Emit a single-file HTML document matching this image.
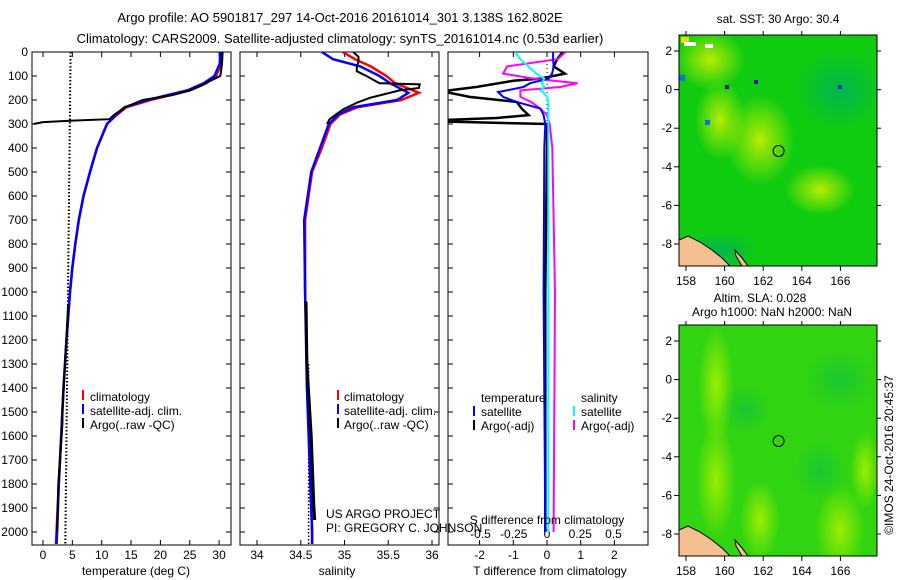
<!DOCTYPE html>
<html><head><meta charset="utf-8"><style>
html,body{margin:0;padding:0;background:#fff;}
svg{display:block;font-family:"Liberation Sans",sans-serif;font-size:12px;}
</style></head><body>
<svg id="fig" width="900" height="580" viewBox="0 0 900 580" xmlns="http://www.w3.org/2000/svg">
<defs>
<clipPath id="c1"><rect x="32" y="52" width="199" height="493"/></clipPath>
<clipPath id="c2"><rect x="240" y="52" width="199" height="493"/></clipPath>
<clipPath id="c3"><rect x="448" y="52" width="200" height="493"/></clipPath>
<clipPath id="m1"><rect x="679" y="35" width="198" height="231"/></clipPath>
<clipPath id="m2"><rect x="679" y="325" width="198" height="231"/></clipPath>
<radialGradient id="yl" cx="50%" cy="50%" r="50%"><stop offset="0" stop-color="#c8f000" stop-opacity="0.9"/><stop offset="1" stop-color="#c8f000" stop-opacity="0"/></radialGradient>
<radialGradient id="tl" cx="50%" cy="50%" r="50%"><stop offset="0" stop-color="#00b060" stop-opacity="0.8"/><stop offset="1" stop-color="#00b060" stop-opacity="0"/></radialGradient>
<radialGradient id="yl2" cx="50%" cy="50%" r="50%"><stop offset="0" stop-color="#a8f000" stop-opacity="0.9"/><stop offset="1" stop-color="#a8f000" stop-opacity="0"/></radialGradient>
<radialGradient id="tl2" cx="50%" cy="50%" r="50%"><stop offset="0" stop-color="#10c040" stop-opacity="0.7"/><stop offset="1" stop-color="#10c040" stop-opacity="0"/></radialGradient>
</defs>
<text x="340" y="22" text-anchor="middle" font-size="13">Argo profile: AO 5901817_297 14-Oct-2016 20161014_301 3.138S 162.802E</text>
<text x="340" y="43" text-anchor="middle" font-size="13">Climatology: CARS2009. Satellite-adjusted climatology: synTS_20161014.nc (0.53d earlier)</text>

<g>
<g clip-path="url(#m1)">
<rect x="679" y="35" width="198" height="231" fill="#10cc10"/>
<ellipse cx="710" cy="60" rx="35" ry="30" fill="url(#yl)"/>
<ellipse cx="760" cy="140" rx="35" ry="45" fill="url(#yl)"/>
<ellipse cx="720" cy="120" rx="25" ry="40" fill="url(#yl)"/>
<ellipse cx="820" cy="190" rx="35" ry="25" fill="url(#yl)"/>
<ellipse cx="840" cy="90" rx="45" ry="40" fill="url(#tl)"/>
<ellipse cx="720" cy="250" rx="40" ry="20" fill="url(#tl)"/>
<rect x="681" y="37" width="8" height="6" fill="#e8e000"/><rect x="684" y="42" width="12" height="4" fill="#fff"/><rect x="705" y="44" width="8" height="4" fill="#fff"/>
<rect x="679" y="75" width="6" height="6" fill="#1070e0"/><rect x="725" y="85" width="4" height="4" fill="#0020a0"/><rect x="754" y="80" width="4" height="4" fill="#0020a0"/><rect x="838" y="85" width="4" height="4" fill="#0030c0"/><rect x="705" y="120" width="5" height="5" fill="#1070e0"/>
<path d="M679,240 L688,236 L700,242 L712,250 L722,258 L730,266 L679,266 Z" fill="#f4c090" stroke="#000" stroke-width="1"/>
<path d="M735,250 L742,258 L748,266 L742,266 L736,256 Z" fill="#f4c090" stroke="#000" stroke-width="1"/>
</g>
<rect x="679" y="35" width="198" height="231" fill="none" stroke="#000"/>
<circle cx="778.6" cy="151" r="5.5" fill="none" stroke="#000"/>
</g>
<g>
<g clip-path="url(#m2)">
<rect x="679" y="325" width="198" height="231" fill="#30d410"/>
<ellipse cx="716" cy="385" rx="18" ry="60" fill="url(#yl2)"/>
<ellipse cx="716" cy="480" rx="20" ry="60" fill="url(#yl2)"/>
<ellipse cx="760" cy="520" rx="20" ry="40" fill="url(#yl2)"/>
<ellipse cx="840" cy="530" rx="25" ry="45" fill="url(#yl2)"/>
<ellipse cx="865" cy="470" rx="15" ry="40" fill="url(#yl2)"/>
<ellipse cx="745" cy="410" rx="25" ry="25" fill="url(#tl2)"/>
<ellipse cx="820" cy="470" rx="25" ry="30" fill="url(#tl2)"/>
<ellipse cx="840" cy="380" rx="35" ry="30" fill="url(#tl2)"/>
<path d="M679,530 L688,526 L700,532 L712,540 L722,548 L730,556 L679,556 Z" fill="#f4c090" stroke="#000" stroke-width="1"/>
<path d="M735,540 L742,548 L748,556 L742,556 L736,546 Z" fill="#f4c090" stroke="#000" stroke-width="1"/>
</g>
<rect x="679" y="325" width="198" height="231" fill="none" stroke="#000"/>
<circle cx="778.6" cy="441" r="5.5" fill="none" stroke="#000"/>
</g>
<text x="778" y="23" text-anchor="middle">sat. SST: 30 Argo: 30.4</text>
<text x="760" y="302" text-anchor="middle">Altim. SLA: 0.028</text>
<text x="772" y="316" text-anchor="middle">Argo h1000: NaN h2000: NaN</text>
<text transform="translate(893,455) rotate(-90)" text-anchor="middle">©IMOS 24-Oct-2016 20:45:37</text>

<g id="dyn"></g>

<g>
<rect x="82" y="390" width="2" height="10" fill="#f00"/><text x="90" y="401">climatology</text>
<rect x="82" y="404" width="2" height="10" fill="#00f"/><text x="90" y="415">satellite-adj. clim.</text>
<rect x="82" y="418" width="2" height="10" fill="#000"/><text x="90" y="429">Argo(..raw -QC)</text>
</g>
<g>
<rect x="337" y="390" width="2" height="10" fill="#f00"/><text x="344" y="401">climatology</text>
<rect x="337" y="404" width="2" height="10" fill="#00f"/><text x="344" y="415">satellite-adj. clim.</text>
<rect x="337" y="418" width="2" height="10" fill="#000"/><text x="344" y="429">Argo(..raw -QC)</text>
</g>
<g>
<text x="481" y="402">temperature</text><text x="581" y="402">salinity</text>
<rect x="473" y="406" width="2" height="10" fill="#00f"/><text x="481" y="416">satellite</text>
<rect x="473" y="420" width="2" height="10" fill="#000"/><text x="481" y="430">Argo(-adj)</text>
<rect x="573" y="406" width="2" height="10" fill="#0ff"/><text x="581" y="416">satellite</text>
<rect x="573" y="420" width="2" height="10" fill="#f0f"/><text x="581" y="430">Argo(-adj)</text>
</g>
<text x="326" y="518">US ARGO PROJECT</text>
<text x="326" y="532">PI: GREGORY C. JOHNSON</text>
<text x="547" y="524" text-anchor="middle">S difference from climatology</text>
<text x="136" y="575" text-anchor="middle">temperature (deg C)</text>
<text x="337" y="575" text-anchor="middle">salinity</text>
<text x="550" y="575" text-anchor="middle">T difference from climatology</text>
</svg>
<script>
const depthTicks=[0,100,200,300,400,500,600,700,800,900,1000,1100,1200,1300,1400,1500,1600,1700,1800,1900,2000];
const tempTicks=[0,5,10,15,20,25,30];
const salTicks=[34,34.5,35,35.5,36];
const salTickLabels=["34","34.5","35","35.5","36"];
const tdiffTicks=[-2,-1,0,1,2];
const sdiffTicks=[-0.5,-0.25,0,0.25,0.5];
const sdiffTickLabels=["-0.5","-0.25","0","0.25","0.5"];
const lonTicks=[158,160,162,164,166];
const latTicks=[2,0,-2,-4,-6,-8];

const climDepth=[0,50,100,130,160,200,230,270,300,400,500,600,700,800,900,1000,1200,1400,1600,1800,2000,2050];
const tempClim=[30.4,30.3,29.5,27.8,25,18.3,14.2,12.2,10.9,9.2,8,6.9,6.1,5.5,5,4.6,4,3.5,3.1,2.7,2.3,2.2];
const tempSat=[30.2,30.1,29.2,27.4,24.6,17.8,13.9,12.1,10.9,9.2,8,6.9,6.1,5.5,5,4.6,4,3.5,3.1,2.7,2.4,2.3];
const argoTDepth=[0,50,100,120,140,160,180,200,230,260,280,286,292,300];
const tempArgo=[30.6,30.5,30.2,28.5,27,25,22,17,14,12.2,11.3,5,0,-1.6];
const argoTDeepDepth=[1050,1500,1550,1800,2000];
const tempArgoDeep=[4.3,3.3,3.3,2.6,2.4];

const salDepth=[0,30,60,100,130,170,200,230,260,300,400,500,700,1000,1400,2000,2050];
const salClim=[34.98,35.12,35.3,35.48,35.58,35.85,35.65,35.15,34.95,34.84,34.74,34.63,34.55,34.55,34.58,34.63,34.63];
const salSat=[34.74,34.87,35.18,35.4,35.52,35.73,35.6,35.1,34.93,34.82,34.72,34.62,34.54,34.55,34.57,34.63,34.63];
const argoSDepth=[0,20,40,60,80,100,130,135,150,160,190,210,240,280,300];
const salArgo=[35.1,35.16,35.16,35.14,35.14,35.25,35.4,35.86,35.85,35.63,35.3,35.15,34.98,34.83,34.8];
const argoSDeepDepth=[1040,1300,1600,1900,1950];
const salArgoDeep=[34.56,34.57,34.62,34.65,34.66];

const diffDepth=[0,30,60,90,111,120,146,160,167,187,208,236,263,275,283,290,300,400,1000,2000];
const tdiffArgo=[0.47,0.3,0.2,0.53,-0.2,-1,-2.1,-2.9,-3,-2.3,-0.9,-0.75,-0.55,-1.5,-3,-3,0,0,-0.05,-0.05];
const sDiffDepth=[0,30,60,90,111,130,146,160,167,187,208,236,263,300,400,1000,2000];
const tdiffSat=[0.18,0.18,0.2,0.15,0.05,-0.5,-0.7,-1.2,-1.45,-1.3,-0.9,-0.2,-0.1,-0.05,-0.08,-0.1,-0.05];
const sdiffArgo=[0.14,0.08,-0.3,-0.33,-0.1,0.23,0.1,-0.2,-0.2,-0.2,-0.12,-0.05,0,0.02,0.04,0.06,0.05];
const sdiffSat=[-0.24,-0.2,-0.14,-0.08,-0.02,-0.04,-0.02,-0.05,-0.03,0,0.01,0.01,0.01,0.01,0.01,0.01,0.01];

const NS="http://www.w3.org/2000/svg";
const g=document.getElementById('dyn');
const yD=d=>52+d*0.24;
const xT=t=>43+t*5.87;
const xS=s=>257+(s-34)*87.5;
const xTd=t=>547+t*33.7;
const xSd=s=>547+s*133;
const xLon=l=>686+(l-158)*19.3;
const yLat=(la,top)=>top+16+(2-la)*19.3;
function el(tag,attrs,parent){const e=document.createElementNS(NS,tag);for(const k in attrs)e.setAttribute(k,attrs[k]);(parent||g).appendChild(e);return e;}
function txt(x,y,s,anchor,parent){const t=el('text',{x:x,y:y,'text-anchor':anchor||'middle'},parent);t.textContent=s;return t;}
function line(depths,vals,xf,color,w,clip,name){
  const pts=depths.map((d,i)=>xf(vals[i]).toFixed(1)+','+yD(d).toFixed(1)).join(' ');
  const p=el('polyline',{points:pts,fill:'none',stroke:color,'stroke-width':w,'clip-path':'url(#'+clip+')'});
  
  
  return p;
}
const panels=[[32,'temperature-panel'],[240,'salinity-panel'],[448,'difference-panel']];
panels.forEach(([x,n],i)=>{
  const r=el('rect',{x:x,y:52,width:i==2?200:199,height:493,fill:'none',stroke:'#000'});
  
  
  depthTicks.forEach(d=>{el('line',{x1:x,x2:x+5,y1:yD(d),y2:yD(d),stroke:'#000'});el('line',{x1:x+(i==2?200:199),x2:x+(i==2?195:194),y1:yD(d),y2:yD(d),stroke:'#000'});});
});
depthTicks.forEach(d=>{const t=txt(28,yD(d)+4,String(d),'end');});
tempTicks.forEach(v=>{el('line',{x1:xT(v),x2:xT(v),y1:545,y2:540,stroke:'#000'});el('line',{x1:xT(v),x2:xT(v),y1:52,y2:57,stroke:'#000'});const t=txt(xT(v),559,String(v));});
salTicks.forEach((v,i)=>{el('line',{x1:xS(v),x2:xS(v),y1:545,y2:540,stroke:'#000'});el('line',{x1:xS(v),x2:xS(v),y1:52,y2:57,stroke:'#000'});const t=txt(xS(v),559,salTickLabels[i]);});
tdiffTicks.forEach(v=>{el('line',{x1:xTd(v),x2:xTd(v),y1:545,y2:540,stroke:'#000'});el('line',{x1:xTd(v),x2:xTd(v),y1:52,y2:57,stroke:'#000'});const t=txt(xTd(v),559,String(v));});
sdiffTicks.forEach((v,i)=>{const t=txt(xSd(v),538,sdiffTickLabels[i]);});
el('line',{x1:xT(4.7),x2:xT(3.8),y1:52,y2:545,stroke:'#000','stroke-width':2,'stroke-dasharray':'1.5,2'});
el('line',{x1:xS(34.59),x2:xS(34.59),y1:yD(1300),y2:545,stroke:'#000','stroke-width':1.5,'stroke-dasharray':'1.5,2'});
el('line',{x1:xTd(0),x2:xTd(0),y1:52,y2:yD(300),stroke:'#000','stroke-width':1,'stroke-dasharray':'1,3'});
line(climDepth,tempClim,xT,'#f00',2.5,'c1','temp-climatology-line');
line(climDepth,tempSat,xT,'#00f',2.5,'c1','temp-satellite-line');
line(argoTDepth,tempArgo,xT,'#000',2,'c1','temp-argo-line');
line(argoTDeepDepth,tempArgoDeep,xT,'#000',2,'c1','temp-argo-deep-line');
line(salDepth,salClim,xS,'#f00',2.5,'c2','salinity-climatology-line');
line(salDepth,salSat,xS,'#00f',2.5,'c2','salinity-satellite-line');
line(argoSDepth,salArgo,xS,'#000',2,'c2','salinity-argo-line');
line(argoSDeepDepth,salArgoDeep,xS,'#000',3,'c2','salinity-argo-deep-line');
line(diffDepth,tdiffArgo,xTd,'#000',2.5,'c3','t-diff-argo-line');
line(sDiffDepth,sdiffArgo,xSd,'#f0f',2,'c3','s-diff-argo-line');
line(sDiffDepth,tdiffSat,xTd,'#00f',2,'c3','t-diff-satellite-line');
line(sDiffDepth,sdiffSat,xSd,'#0ff',2,'c3','s-diff-satellite-line');
[35,325].forEach((top,mi)=>{
  lonTicks.forEach(l=>{el('line',{x1:xLon(l),x2:xLon(l),y1:top+231,y2:top+236,stroke:'#000'});el('line',{x1:xLon(l),x2:xLon(l),y1:top,y2:top-4,stroke:'#000'});const t=txt(xLon(l),top+250,String(l));});
  latTicks.forEach(la=>{const y=yLat(la,top);el('line',{x1:679,x2:674,y1:y,y2:y,stroke:'#000'});el('line',{x1:877,x2:881,y1:y,y2:y,stroke:'#000'});const t=txt(672,y+4,String(la),'end');});
});
</script>
</body></html>
